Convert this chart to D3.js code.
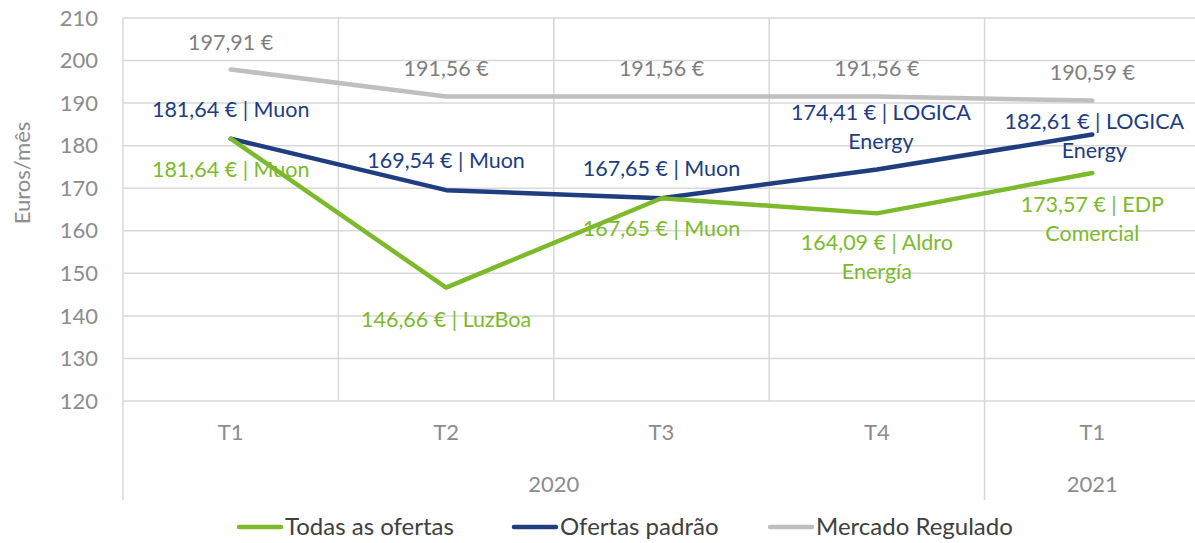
<!DOCTYPE html>
<html>
<head>
<meta charset="utf-8">
<script src="https://cdn.jsdelivr.net/npm/d3@7"></script>
<style>
  body { margin: 0; background: #fff; }
  svg { display: block; font-family: Lato, "Open Sans", sans-serif; }
</style>
</head>
<body>
<div class="chart"></div>
<script>
// chart data
var quarters = ["T1", "T2", "T3", "T4", "T1"],
    years = ["2020", "2020", "2020", "2020", "2021"],
    todas = [181.64, 146.66, 167.65, 164.09, 173.57],
    todasSupplier = ["Muon", "LuzBoa", "Muon", "Aldro|Energía", "EDP|Comercial"],
    padrao = [181.64, 169.54, 167.65, 174.41, 182.61],
    padraoSupplier = ["Muon", "Muon", "Muon", "LOGICA|Energy", "LOGICA|Energy"],
    regulado = [197.91, 191.56, 191.56, 191.56, 190.59],
    yTicks = [120, 130, 140, 150, 160, 170, 180, 190, 200, 210],
    seriesNames = ["Todas as ofertas", "Ofertas padrão", "Mercado Regulado"];

// label placement (offset of first line centre from the point, px)
var todasDy = [31, 32, 30, 29, 31],
    padraoDy = [-29, -30, -30, -57, -13],
    reguladoDy = [-27, -28, -28, -28, -28];

var W = 1195, H = 543,
    plotLeft = 123, plotRight = 1200, plotTop = 18, plotBottom = 401,
    green = "#7DBA2B", navy = "#203D80", gray = "#BFBFBF",
    labGray = "#7F7F7F", gridC = "#D9D9D9";

var keys = quarters.map(function(q, i) { return years[i] + "-" + q + "-" + i; });

var x = d3.scaleBand().domain(keys).range([plotLeft, plotRight]).padding(0),
    y = d3.scaleLinear().domain([120, 210]).range([plotBottom, plotTop]);

function cx(i) { return x(keys[i]) + x.bandwidth() / 2; }

var loc = d3.formatLocale({decimal: ",", thousands: ".", grouping: [3], currency: ["", " €"]}),
    fmt = loc.format(".2f");

var svg = d3.select(".chart").append("svg")
    .attr("width", W)
    .attr("height", H);

// horizontal gridlines
svg.append("g").selectAll("line")
    .data(yTicks)
  .enter().append("line")
    .attr("x1", plotLeft).attr("x2", plotRight)
    .attr("y1", function(d) { return y(d); })
    .attr("y2", function(d) { return y(d); })
    .attr("stroke", gridC).attr("stroke-width", 1.5);

// vertical category dividers
var groupStarts = [];
keys.forEach(function(k, i) {
    var isGroup = i === 0 || years[i] !== years[i - 1];
    svg.append("line")
        .attr("x1", x(k)).attr("x2", x(k))
        .attr("y1", plotTop).attr("y2", isGroup ? 500 : plotBottom)
        .attr("stroke", gridC).attr("stroke-width", 1.5);
    if (isGroup) groupStarts.push(i);
});

// y tick labels
svg.append("g").selectAll("text")
    .data(yTicks)
  .enter().append("text")
    .attr("x", 98)
    .attr("y", function(d) { return y(d); })
    .attr("dy", "0.35em")
    .attr("text-anchor", "end")
    .attr("fill", "#8C8C8C")
    .style("font-size", "22px")
    .text(function(d) { return d; });

svg.append("text")
    .attr("transform", "translate(30,173) rotate(-90)")
    .attr("text-anchor", "middle")
    .attr("fill", "#8C8C8C")
    .style("font-size", "22px")
    .text("Euros/mês");

// category labels
svg.append("g").selectAll("text")
    .data(quarters)
  .enter().append("text")
    .attr("x", function(d, i) { return cx(i); })
    .attr("y", 432)
    .attr("dy", "0.35em")
    .attr("text-anchor", "middle")
    .attr("fill", "#8C8C8C")
    .style("font-size", "22px")
    .text(function(d) { return d; });

// year group labels
groupStarts.forEach(function(s, gi) {
    var e = gi + 1 < groupStarts.length ? groupStarts[gi + 1] : keys.length;
    var x0 = x(keys[s]), x1 = e < keys.length ? x(keys[e]) : plotRight;
    svg.append("text")
        .attr("x", gi + 1 < groupStarts.length ? (x0 + x1) / 2 : cx(s))
        .attr("y", 484)
        .attr("dy", "0.35em")
        .attr("text-anchor", "middle")
        .attr("fill", "#8C8C8C")
        .style("font-size", "22px")
        .text(years[s]);
});

var line = d3.line()
    .x(function(d, i) { return cx(i); })
    .y(function(d) { return y(d); });

var series = [
    {values: regulado, color: gray},
    {values: padrao, color: navy},
    {values: todas, color: green}
];

svg.append("g").selectAll("path")
    .data(series)
  .enter().append("path")
    .attr("d", function(d) { return line(d.values); })
    .attr("fill", "none")
    .attr("stroke", function(d) { return d.color; })
    .attr("stroke-width", 4.5)
    .attr("stroke-linejoin", "round")
    .attr("stroke-linecap", "round");

function labels(vals, suppliers, dys, color, dxs) {
    vals.forEach(function(v, i) {
        var parts = suppliers ? suppliers[i].split("|") : [],
            lines = [fmt(v) + " €" + (parts.length ? " | " + parts[0] : "")].concat(parts.slice(1));
        var t = svg.append("text")
            .attr("text-anchor", "middle")
            .attr("fill", color)
            .style("font-size", "21.5px");
        lines.forEach(function(s, j) {
            t.append("tspan")
                .attr("x", cx(i) + (dxs ? dxs[i] : 0))
                .attr("y", y(v) + dys[i] + j * 29)
                .attr("dy", "0.35em")
                .text(s);
        });
    });
}

labels(regulado, null, reguladoDy, labGray);
labels(padrao, padraoSupplier, padraoDy, navy, [0, 0, 0, 4, 2]);
labels(todas, todasSupplier, todasDy, green);

// legend
var legendX = [237, 512, 768],
    legendColors = [green, navy, gray];
var lg = svg.append("g").selectAll("g")
    .data(seriesNames)
  .enter().append("g")
    .attr("transform", function(d, i) { return "translate(" + legendX[i] + ",527)"; });
lg.append("line")
    .attr("x1", 2).attr("x2", 44)
    .attr("stroke", function(d, i) { return legendColors[i]; })
    .attr("stroke-width", 4.5)
    .attr("stroke-linecap", "round");
lg.append("text")
    .attr("x", 48)
    .attr("dy", "0.35em")
    .attr("fill", "#404040")
    .style("font-size", "24px")
    .text(function(d) { return d; });
</script>
</body>
</html>
